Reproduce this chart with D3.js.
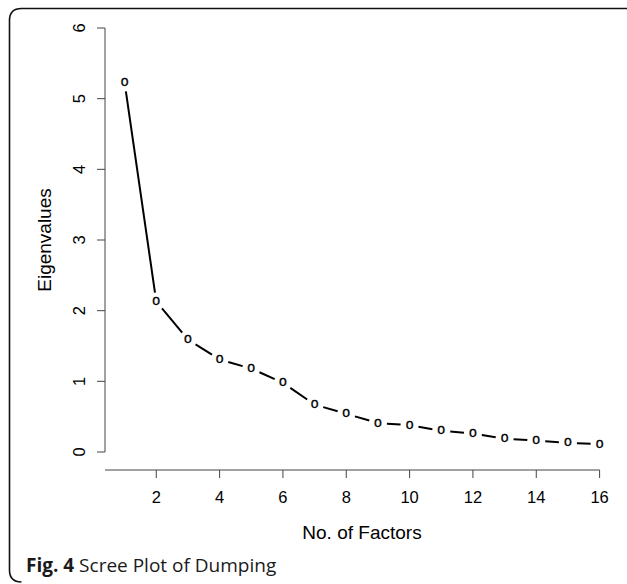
<!DOCTYPE html>
<html>
<head>
<meta charset="utf-8">
<script src="https://cdn.jsdelivr.net/npm/d3@7"></script>
<style>
  body { margin: 0; background: #fff; }
  svg { display: block; }
  .tick-label, .axis-title, .pt { font-family: "Liberation Sans", Arial, sans-serif; fill: #000; }
  .caption { font-family: "Open Sans", sans-serif; fill: #1a1a1a; }
</style>
</head>
<body>
<svg id="chart"></svg>
<script>
// data
var factors = [1, 2, 3, 4, 5, 6, 7, 8, 9, 10, 11, 12, 13, 14, 15, 16];
var eigenvalues = [5.23, 2.13, 1.59, 1.31, 1.18, 0.98, 0.67, 0.54, 0.41, 0.38, 0.30, 0.26, 0.19, 0.16, 0.13, 0.11];
var xTicks = [2, 4, 6, 8, 10, 12, 14, 16];
var yTicks = [0, 1, 2, 3, 4, 5, 6];

var W = 627, H = 584;
var svg = d3.select("#chart").attr("width", W).attr("height", H);

// R style plot region: xlim extended by 4%
var x = d3.scaleLinear().domain([0.4, 16.6]).range([105.6, 618.6]);
var y = d3.scaleLinear().domain([0, 6]).range([452, 28]);

// figure frame (rounded top-left, open on the right)
var r = 12;
svg.append("path")
  .attr("d", "M" + W + ",8.5 L" + (9.5 + r) + ",8.5 Q9.5,8.5 9.5," + (8.5 + r) +
        " L9.5," + (582 - r) + " Q9.5,582 " + (9.5 + r) + ",582")
  .attr("fill", "none").attr("stroke", "#111").attr("stroke-width", 1.6);

// y axis
var yAxisX = 105;
svg.append("line")
  .attr("x1", yAxisX).attr("x2", yAxisX)
  .attr("y1", y(0)).attr("y2", y(6))
  .attr("stroke", "#444").attr("stroke-width", 1);
var yt = svg.append("g").selectAll("g").data(yTicks).enter().append("g");
yt.append("line")
  .attr("x1", yAxisX - 8).attr("x2", yAxisX)
  .attr("y1", function(d) { return y(d); }).attr("y2", function(d) { return y(d); })
  .attr("stroke", "#444");
yt.append("text")
  .classed("tick-label", true)
  .attr("transform", function(d) { return "translate(" + [84.5, y(d)] + ") rotate(-90)"; })
  .attr("text-anchor", "middle")
  .style("font-size", "16.5px")
  .text(function(d) { return d; });

// x axis
var xAxisY = 470;
svg.append("line")
  .attr("x1", 105).attr("x2", x(16))
  .attr("y1", xAxisY).attr("y2", xAxisY)
  .attr("stroke", "#444");
var xt = svg.append("g").selectAll("g").data(xTicks).enter().append("g");
xt.append("line")
  .attr("x1", function(d) { return x(d); }).attr("x2", function(d) { return x(d); })
  .attr("y1", xAxisY).attr("y2", xAxisY + 8)
  .attr("stroke", "#444");
xt.append("text")
  .classed("tick-label", true)
  .attr("x", function(d) { return x(d); })
  .attr("y", 503)
  .attr("text-anchor", "middle")
  .style("font-size", "16.5px")
  .text(function(d) { return d; });

// axis titles
svg.append("text")
  .classed("axis-title", true)
  .attr("x", 362).attr("y", 538.5)
  .attr("text-anchor", "middle")
  .style("font-size", "19px")
  .text("No. of Factors");
svg.append("text")
  .classed("axis-title", true)
  .attr("transform", "translate(" + [51, 240] + ") rotate(-90)")
  .attr("text-anchor", "middle")
  .style("font-size", "19px")
  .text("Eigenvalues");

// type = "b": segments with a gap around each point
var gap = 9;
var pts = factors.map(function(f, i) { return [x(f), y(eigenvalues[i])]; });
var segs = d3.pairs(pts).map(function(p) {
  var dx = p[1][0] - p[0][0], dy = p[1][1] - p[0][1];
  var len = Math.sqrt(dx * dx + dy * dy), ux = dx / len, uy = dy / len;
  return [p[0][0] + ux * gap, p[0][1] + uy * gap, p[1][0] - ux * gap, p[1][1] - uy * gap];
});
svg.append("g").selectAll("line").data(segs).enter().append("line")
  .attr("x1", function(d) { return d[0]; }).attr("y1", function(d) { return d[1]; })
  .attr("x2", function(d) { return d[2]; }).attr("y2", function(d) { return d[3]; })
  .attr("stroke", "#000").attr("stroke-width", 2);

svg.append("g").selectAll("text").data(pts).enter().append("text")
  .classed("pt", true)
  .attr("x", function(d) { return d[0]; })
  .attr("y", function(d) { return d[1]; })
  .attr("dy", "0.26em")
  .attr("text-anchor", "middle")
  .attr("stroke", "#000").attr("stroke-width", 0.3)
  .style("font-size", "14px")
  .text("o");

// caption
var cap = svg.append("text")
  .classed("caption", true)
  .attr("x", 26).attr("y", 572)
  .style("font-size", "19px");
cap.append("tspan").style("font-weight", "bold").text("Fig. 4");
cap.append("tspan").text(" Scree Plot of Dumping");
</script>
</body>
</html>
